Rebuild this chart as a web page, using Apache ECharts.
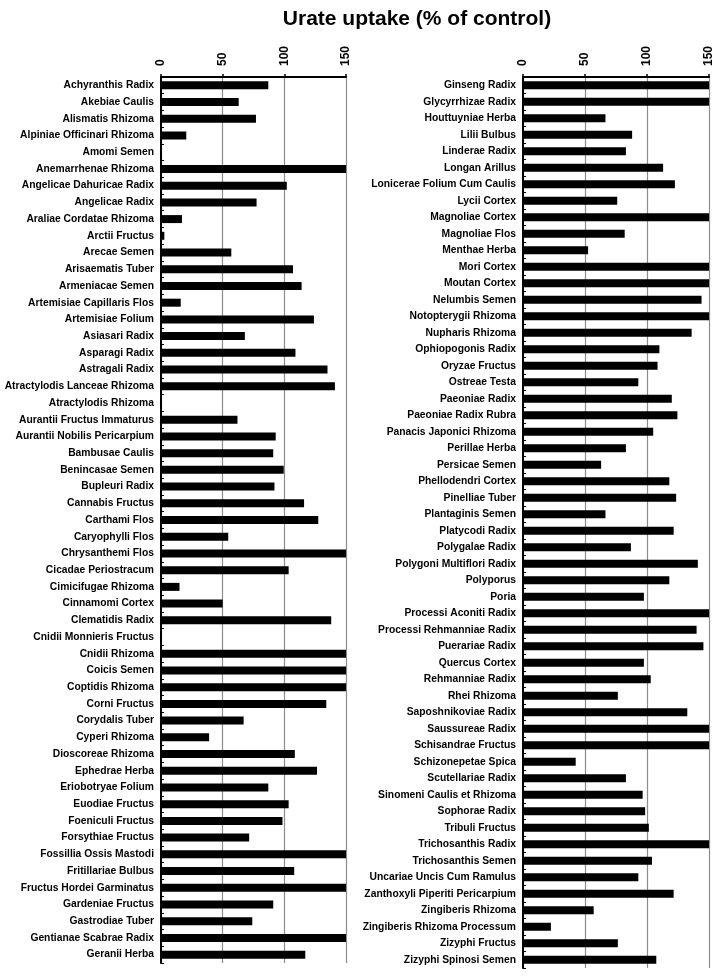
<!DOCTYPE html>
<html>
<head>
    <meta charset="utf-8">
    <title>Urate uptake (% of control)</title>
    <script src="https://cdn.jsdelivr.net/npm/echarts@6/dist/echarts.min.js"></script>
    <style>
        html, body { margin: 0; padding: 0; background: #fff; }
        #chart-container { width: 719px; height: 976px; }
    </style>
</head>
<body>
<div id="chart-container"></div>
<script>
    // 左侧面板
    var leftNames = [
        'Achyranthis Radix', 'Akebiae Caulis', 'Alismatis Rhizoma', 'Alpiniae Officinari Rhizoma',
        'Amomi Semen', 'Anemarrhenae Rhizoma', 'Angelicae Dahuricae Radix', 'Angelicae Radix',
        'Araliae Cordatae Rhizoma', 'Arctii Fructus', 'Arecae Semen', 'Arisaematis Tuber',
        'Armeniacae Semen', 'Artemisiae Capillaris Flos', 'Artemisiae Folium', 'Asiasari Radix',
        'Asparagi Radix', 'Astragali Radix', 'Atractylodis Lanceae Rhizoma', 'Atractylodis Rhizoma',
        'Aurantii Fructus Immaturus', 'Aurantii Nobilis Pericarpium', 'Bambusae Caulis', 'Benincasae Semen',
        'Bupleuri Radix', 'Cannabis Fructus', 'Carthami Flos', 'Caryophylli Flos',
        'Chrysanthemi Flos', 'Cicadae Periostracum', 'Cimicifugae Rhizoma', 'Cinnamomi Cortex',
        'Clematidis Radix', 'Cnidii Monnieris Fructus', 'Cnidii Rhizoma', 'Coicis Semen',
        'Coptidis Rhizoma', 'Corni Fructus', 'Corydalis Tuber', 'Cyperi Rhizoma',
        'Dioscoreae Rhizoma', 'Ephedrae Herba', 'Eriobotryae Folium', 'Euodiae Fructus',
        'Foeniculi Fructus', 'Forsythiae Fructus', 'Fossillia Ossis Mastodi', 'Fritillariae Bulbus',
        'Fructus Hordei Garminatus', 'Gardeniae Fructus', 'Gastrodiae Tuber', 'Gentianae Scabrae Radix',
        'Geranii Herba'
    ];
    var leftValues = [
        87, 63, 77, 20.5, 0, 150, 102, 77.5,
        17, 2.7, 57, 107, 114, 16, 124, 68,
        109, 135, 141, 0, 62, 93, 91, 99.5,
        92, 116, 127.5, 54.5, 150, 103.5, 15, 50,
        138, 0, 150, 150, 150, 134, 67, 39,
        108.5, 126.5, 87, 103.5, 98.5, 71.5, 150, 108,
        150, 91, 74, 150, 117
    ];

    // 右侧面板
    var rightNames = [
        'Ginseng Radix', 'Glycyrrhizae Radix', 'Houttuyniae Herba', 'Lilii Bulbus',
        'Linderae Radix', 'Longan Arillus', 'Lonicerae Folium Cum Caulis', 'Lycii Cortex',
        'Magnoliae Cortex', 'Magnoliae Flos', 'Menthae Herba', 'Mori Cortex',
        'Moutan Cortex', 'Nelumbis Semen', 'Notopterygii Rhizoma', 'Nupharis Rhizoma',
        'Ophiopogonis Radix', 'Oryzae Fructus', 'Ostreae Testa', 'Paeoniae Radix',
        'Paeoniae Radix Rubra', 'Panacis Japonici Rhizoma', 'Perillae Herba', 'Persicae Semen',
        'Phellodendri Cortex', 'Pinelliae Tuber', 'Plantaginis Semen', 'Platycodi Radix',
        'Polygalae Radix', 'Polygoni Multiflori Radix', 'Polyporus', 'Poria',
        'Processi Aconiti Radix', 'Processi Rehmanniae Radix', 'Puerariae Radix', 'Quercus Cortex',
        'Rehmanniae Radix', 'Rhei Rhizoma', 'Saposhnikoviae Radix', 'Saussureae Radix',
        'Schisandrae Fructus', 'Schizonepetae Spica', 'Scutellariae Radix', 'Sinomeni Caulis et Rhizoma',
        'Sophorae Radix', 'Tribuli Fructus', 'Trichosanthis Radix', 'Trichosanthis Semen',
        'Uncariae Uncis Cum Ramulus', 'Zanthoxyli Piperiti Pericarpium', 'Zingiberis Rhizoma', 'Zingiberis Rhizoma Processum',
        'Zizyphi Fructus', 'Zizyphi Spinosi Semen'
    ];
    var rightValues = [
        150, 150, 66.5, 88, 83, 113, 122.5, 76,
        150, 82, 52.5, 150, 150, 144, 150, 136,
        110, 108.5, 93, 120, 124.5, 105, 83, 63,
        118, 123.5, 66.5, 121.5, 87, 141, 118, 97.5,
        150, 140, 145.5, 97.5, 103, 76.5, 132.5, 150,
        150, 42.5, 83, 96.5, 98.5, 101.5, 150, 104,
        93, 121.5, 57, 22.5, 76.5, 107.5
    ];

    var xTicks = [0, 50, 100, 150];

    var myChart = echarts.init(document.getElementById('chart-container'));

    function xAxisCfg(gridIndex) {
        return {
            gridIndex: gridIndex,
            type: 'value',
            position: 'top',
            min: xTicks[0],
            max: xTicks[xTicks.length - 1],
            interval: 50,
            axisLine: { show: true, lineStyle: { color: '#000', width: 2 } },
            axisTick: { show: true, length: 3, lineStyle: { color: '#000', width: 1.5 } },
            axisLabel: {
                rotate: -90,
                margin: 11,
                color: '#000',
                fontWeight: 'bold',
                fontSize: 12,
                fontFamily: 'Arial'
            },
            splitLine: { show: true, lineStyle: { color: '#8c8c8c', width: 1.2 } }
        };
    }

    function yAxisCfg(gridIndex, names) {
        return {
            gridIndex: gridIndex,
            type: 'category',
            inverse: true,
            data: names,
            axisLine: { show: true, lineStyle: { color: '#000', width: 2 } },
            axisTick: { show: true, inside: true, length: 3, lineStyle: { color: '#000', width: 1 } },
            axisLabel: {
                margin: 7,
                color: '#000',
                fontWeight: 'bold',
                fontSize: 10.3,
                fontFamily: 'Arial',
                interval: 0
            },
            splitLine: { show: false }
        };
    }

    var option = {
        backgroundColor: '#fff',
        animation: false,
        graphic: [{
            type: 'text',
            x: 417,
            y: 19,
            style: {
                text: 'Urate uptake (% of control)',
                fill: '#000',
                fontSize: 21,
                fontWeight: 'bold',
                fontFamily: 'Arial',
                textAlign: 'center',
                textVerticalAlign: 'middle'
            }
        }],
        grid: [
            { left: 161, top: 77, width: 185, height: 886 },
            { left: 523, top: 77, width: 186, height: 891 }
        ],
        xAxis: [xAxisCfg(0), xAxisCfg(1)],
        yAxis: [yAxisCfg(0, leftNames), yAxisCfg(1, rightNames)],
        series: [
            {
                type: 'bar',
                xAxisIndex: 0,
                yAxisIndex: 0,
                data: leftValues,
                barWidth: 8,
                itemStyle: { color: '#000' }
            },
            {
                type: 'bar',
                xAxisIndex: 1,
                yAxisIndex: 1,
                data: rightValues,
                barWidth: 8,
                itemStyle: { color: '#000' }
            }
        ]
    };

    myChart.setOption(option);
</script>
</body>
</html>
